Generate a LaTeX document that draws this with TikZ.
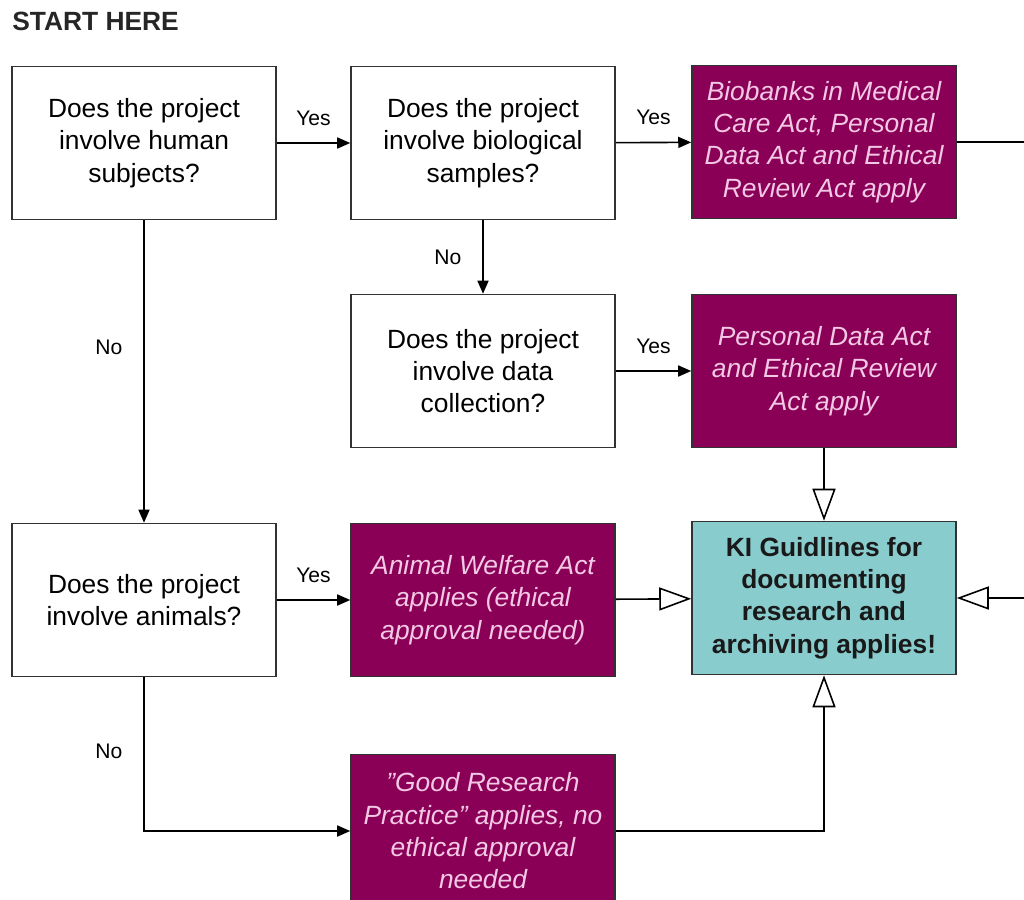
\documentclass[tikz,border=0pt]{standalone}
\usepackage{fontspec}
\setmainfont{Liberation Sans}
\usepackage{tikz}
\usetikzlibrary{positioning,arrows.meta}

\definecolor{plum}{RGB}{139,0,87}
\definecolor{plumtext}{RGB}{242,200,228}
\definecolor{kiteal}{RGB}{136,204,206}
\definecolor{rim}{RGB}{50,50,50}

\begin{document}
\begin{tikzpicture}[
    x=0.02cm, y=-0.02cm,
    question/.style={draw=rim, line width=0.9pt, fill=white, rectangle, minimum width=5.28cm, minimum height=3.06cm, align=center, font=\fontsize{15}{18.4}\selectfont},
    law/.style={question, fill=plum, text=plumtext, font=\fontsize{15}{18.4}\selectfont\itshape},
    guide/.style={question, fill=kiteal, text=black!90, font=\fontsize{15}{18.4}\selectfont\bfseries},
    lbl/.style={font=\fontsize{12}{14}\selectfont},
    flow/.style={line width=0.9pt, -{Triangle[length=2.6mm, width=2.2mm]}},
    into/.style={line width=0.9pt, -{Triangle[length=6.4mm, width=4.6mm, fill=white]}}
  ]
    \useasboundingbox (0,0) rectangle (1024,899);
    \clip (0,0) rectangle (1024,899);

    \node[anchor=west, font=\fontsize{15}{18}\selectfont\bfseries, text=black!85, inner sep=0pt] (start) at (12,21) {START HERE};

    \node[question] (human) at (144,143) {Does the project\\involve human\\subjects?};
    \node[question] (samples) at (483,143) {Does the project\\involve biological\\samples?};
    \node[law] (biobanks) at (824,142) {Biobanks in Medical\\Care Act, Personal\\Data Act and Ethical\\Review Act apply};
    \node[question] (datacoll) at (483,371) {Does the project\\involve data\\collection?};
    \node[law] (persdata) at (824,371) {Personal Data Act\\and Ethical Review\\Act apply};
    \node[question] (animals) at (144,600) {Does the project\\involve animals?};
    \node[law] (welfare) at (483,600) {Animal Welfare Act\\applies (ethical\\approval needed)};
    \node[guide] (ki) at (824,598) {KI Guidlines for\\documenting\\research and\\archiving applies!};
    \node[law] (goodres) at (483,831) {”Good Research\\Practice” applies, no\\ethical approval\\needed};

    \draw[flow] (human) -- (samples) node[lbl, midway, above=0.22cm] {Yes};
    \draw[flow] (samples) -- (biobanks) node[lbl, midway, above=0.22cm] {Yes};
    \draw[flow] (samples) -- (datacoll) node[lbl, midway, left=0.3cm] {No};
    \draw[flow] (datacoll) -- (persdata) node[lbl, midway, above=0.22cm] {Yes};
    \draw[flow] (human) -- (animals) node[lbl, pos=0.42, left=0.3cm] {No};
    \draw[flow] (animals) -- (welfare) node[lbl, midway, above=0.22cm] {Yes};
    \draw[flow] (animals) |- (goodres) node[lbl, pos=0.24, left=0.3cm] {No};

    \draw[into] (persdata) -- (ki);
    \draw[into] (welfare) -- (ki);
    \draw[into] (goodres) -| (ki);
    \draw[into] (biobanks.east) -- ++(90,0) |- (ki.east);
  \end{tikzpicture}
\end{document}
